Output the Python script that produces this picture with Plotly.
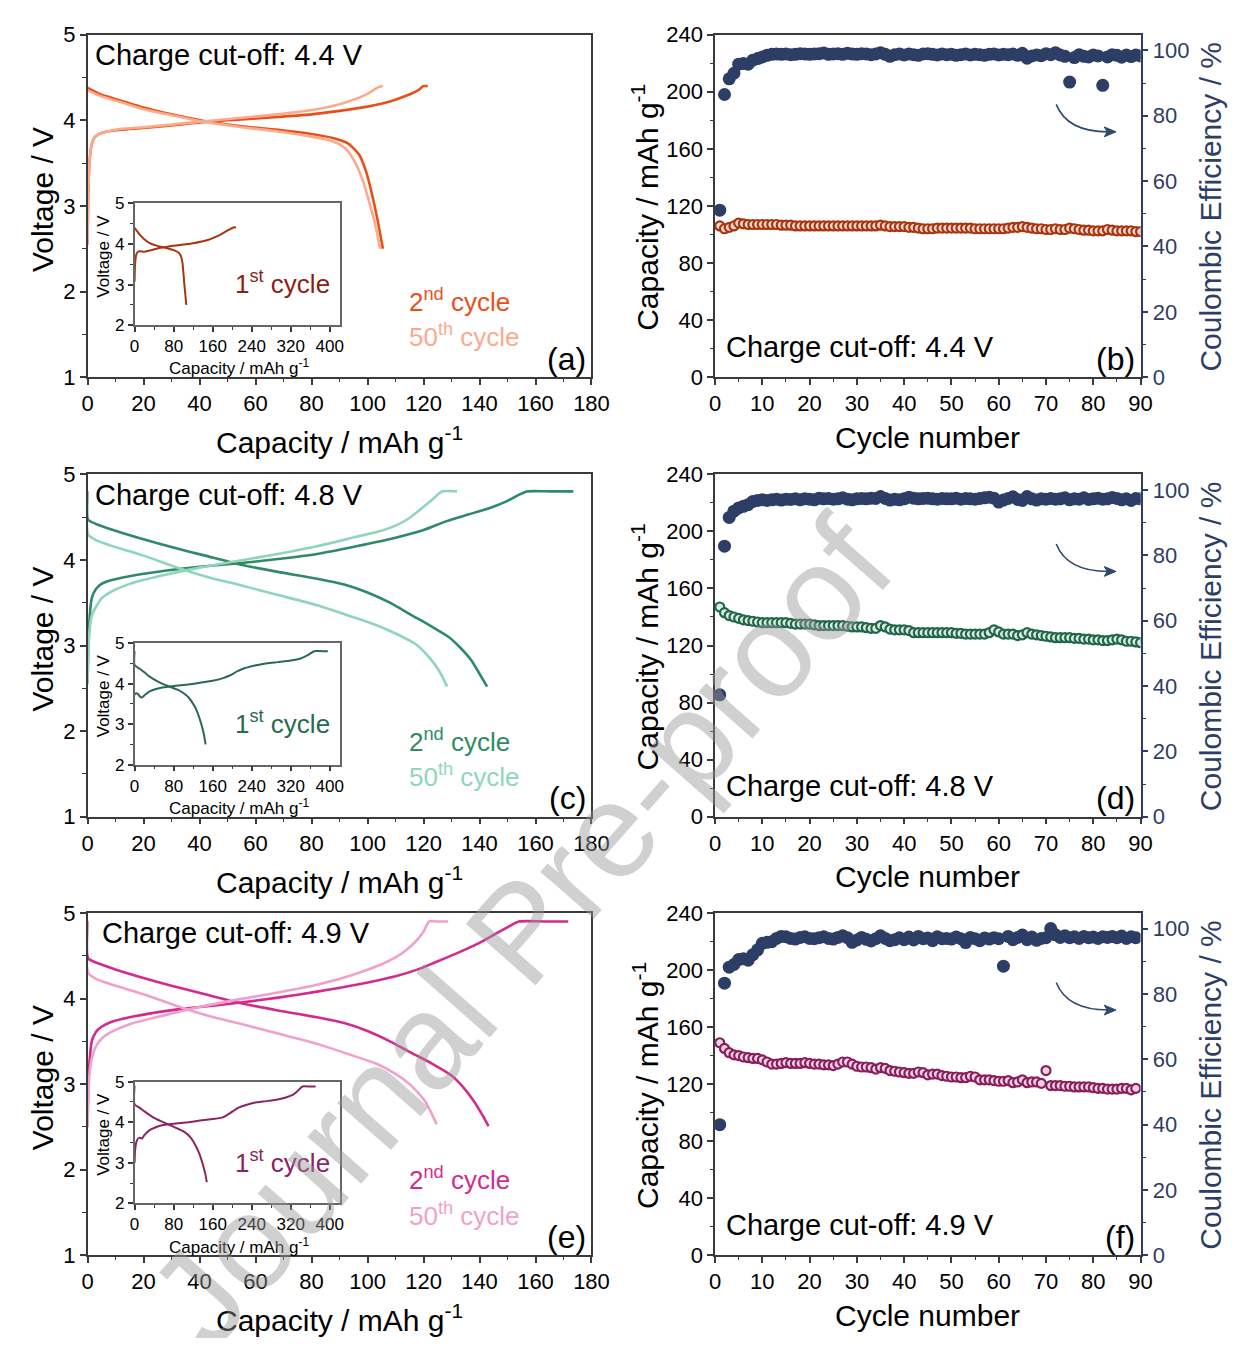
import plotly.graph_objects as go

# page is 1245x1346; the browser adds an 8px body margin, so the figure is
# sized to fit inside it and all placements are given in page pixels.
PAGE_W, PAGE_H = 1245, 1346
OFF = 8
W, H = PAGE_W - 2 * OFF, PAGE_H - 2 * OFF
FONT = "Liberation Sans, Arial, sans-serif"

# ---------------- data: voltage profiles ----------------
a2_chg_x = [0, 0.3, 0.8, 1.5, 2.5, 4, 7, 12, 20, 30, 42, 55, 68, 80, 90, 100, 108, 114, 118, 120, 121.5]
a2_chg_y = [2.55, 3.2, 3.55, 3.72, 3.80, 3.84, 3.87, 3.89, 3.91, 3.94, 3.98, 4.01, 4.04, 4.07, 4.11, 4.16, 4.22, 4.29, 4.35, 4.40, 4.40]
a50_chg_x = [0, 0.3, 0.8, 1.5, 2.5, 4, 7, 12, 20, 30, 42, 55, 68, 80, 88, 95, 100, 104, 105.5]
a50_chg_y = [2.55, 3.2, 3.55, 3.72, 3.80, 3.84, 3.87, 3.90, 3.92, 3.95, 3.99, 4.03, 4.07, 4.12, 4.17, 4.24, 4.31, 4.39, 4.40]
a2_dis_x = [0, 5, 12, 20, 30, 42, 55, 68, 80, 88, 93, 97, 99.5, 101.5, 103.5, 105.5]
a2_dis_y = [4.38, 4.30, 4.23, 4.15, 4.07, 3.99, 3.93, 3.89, 3.84, 3.79, 3.73, 3.60, 3.40, 3.15, 2.85, 2.50]
a50_dis_x = [0, 5, 12, 20, 30, 42, 55, 68, 80, 86, 90, 93, 96, 98.5, 101, 103, 104.5]
a50_dis_y = [4.35, 4.28, 4.21, 4.13, 4.06, 3.98, 3.92, 3.87, 3.81, 3.77, 3.72, 3.64, 3.48, 3.28, 3.0, 2.75, 2.50]
ia_chg_x = [0, 1, 3, 6, 10, 20, 35, 50, 70, 97, 120, 150, 165, 177, 190, 203, 208]
ia_chg_y = [3.07, 3.5, 3.72, 3.80, 3.82, 3.81, 3.85, 3.90, 3.94, 3.98, 4.02, 4.10, 4.17, 4.24, 4.33, 4.41, 4.41]
ia_dis_x = [0, 10, 20, 30, 45, 63, 80, 90, 95, 98, 100, 102, 104, 106]
ia_dis_y = [4.40, 4.24, 4.12, 4.03, 3.96, 3.91, 3.85, 3.79, 3.70, 3.55, 3.30, 3.0, 2.75, 2.50]

c2_chg_x = [0, 0.3, 0.8, 1.5, 3, 5, 8, 15, 27, 40, 54, 68, 82, 96, 110, 120, 128, 136, 144, 150, 154, 157, 165, 173.5]
c2_chg_y = [2.55, 3.0, 3.35, 3.55, 3.66, 3.72, 3.76, 3.81, 3.87, 3.92, 3.96, 4.01, 4.07, 4.16, 4.26, 4.35, 4.45, 4.53, 4.61, 4.69, 4.76, 4.80, 4.80, 4.80]
c50_chg_x = [0, 0.3, 0.8, 1.5, 3, 5, 8, 15, 27, 40, 54, 68, 82, 96, 105, 110, 115, 120, 124, 126.5, 132]
c50_chg_y = [2.55, 2.95, 3.2, 3.35, 3.45, 3.55, 3.62, 3.72, 3.82, 3.91, 3.99, 4.07, 4.16, 4.27, 4.34, 4.40, 4.49, 4.62, 4.73, 4.80, 4.80]
c2_dis_x = [0, 0.2, 3, 10, 20, 30, 42, 54, 68, 82, 92, 100, 108, 116, 123, 129, 133, 137, 140, 142.7]
c2_dis_y = [4.80, 4.47, 4.42, 4.34, 4.24, 4.15, 4.05, 3.95, 3.86, 3.78, 3.71, 3.62, 3.50, 3.35, 3.22, 3.10, 2.98, 2.83, 2.67, 2.52]
c50_dis_x = [0, 0.2, 3, 8, 13, 20, 33, 45, 54, 68, 82, 95, 103, 110, 117, 121, 124, 126.5, 128.4]
c50_dis_y = [4.80, 4.30, 4.23, 4.17, 4.12, 4.05, 3.90, 3.78, 3.71, 3.59, 3.47, 3.33, 3.24, 3.14, 3.02, 2.90, 2.78, 2.65, 2.52]
ic_chg_x = [0, 3, 7, 11, 15, 22, 30, 42, 54, 80, 110, 134, 160, 180, 195, 210, 225, 240, 260, 293, 320, 340, 355, 368, 385, 396]
ic_chg_y = [3.73, 3.76, 3.74, 3.68, 3.66, 3.73, 3.80, 3.86, 3.90, 3.94, 3.98, 4.02, 4.07, 4.13, 4.20, 4.30, 4.38, 4.43, 4.48, 4.53, 4.57, 4.62, 4.70, 4.80, 4.80, 4.80]
ic_dis_x = [0, 0, 10, 20, 30, 45, 60, 75, 90, 102, 112, 120, 126, 132, 138, 142, 145.5]
ic_dis_y = [4.8, 4.46, 4.37, 4.28, 4.18, 4.07, 3.98, 3.91, 3.84, 3.75, 3.64, 3.50, 3.37, 3.18, 2.95, 2.75, 2.50]

e2_chg_x = [0, 0.3, 0.8, 1.5, 3, 5, 8, 15, 27, 40, 54, 68, 82, 96, 110, 118, 124, 132, 140, 146, 151, 154, 163, 171.7]
e2_chg_y = [2.5, 3.0, 3.3, 3.5, 3.61, 3.67, 3.72, 3.78, 3.85, 3.90, 3.95, 4.01, 4.08, 4.16, 4.26, 4.34, 4.42, 4.53, 4.65, 4.76, 4.85, 4.90, 4.90, 4.90]
e50_chg_x = [0, 0.3, 0.8, 1.5, 3, 5, 8, 15, 27, 40, 54, 68, 82, 96, 105, 110, 114, 117, 120, 122, 125, 128.8]
e50_chg_y = [2.5, 2.9, 3.15, 3.3, 3.44, 3.53, 3.60, 3.70, 3.80, 3.90, 3.99, 4.07, 4.16, 4.29, 4.40, 4.48, 4.57, 4.66, 4.78, 4.90, 4.90, 4.90]
e2_dis_x = [0, 0.2, 3, 10, 20, 30, 42, 54, 68, 82, 92, 100, 108, 116, 123, 130, 134, 138, 141, 143.2]
e2_dis_y = [4.90, 4.47, 4.42, 4.34, 4.24, 4.15, 4.05, 3.95, 3.86, 3.78, 3.71, 3.62, 3.50, 3.36, 3.24, 3.10, 2.97, 2.80, 2.64, 2.51]
e50_dis_x = [0, 0.2, 3, 8, 13, 20, 33, 45, 54, 68, 82, 95, 103, 110, 115, 118, 120.8, 123, 124.7]
e50_dis_y = [4.90, 4.30, 4.23, 4.17, 4.12, 4.05, 3.90, 3.78, 3.71, 3.59, 3.47, 3.33, 3.24, 3.12, 3.0, 2.9, 2.79, 2.65, 2.53]
ie_chg_x = [0, 1, 3, 6, 10, 15, 20, 30, 42, 54, 80, 110, 134, 160, 181, 195, 213, 230, 245, 270, 293, 310, 325, 335, 344, 360, 371]
ie_chg_y = [3.0, 3.3, 3.48, 3.58, 3.62, 3.60, 3.68, 3.80, 3.87, 3.92, 3.96, 4.00, 4.04, 4.08, 4.12, 4.22, 4.36, 4.43, 4.48, 4.52, 4.56, 4.61, 4.68, 4.78, 4.88, 4.88, 4.88]
ie_dis_x = [0, 0, 10, 20, 38, 55, 70, 85, 102, 115, 126, 134, 140, 145, 148]
ie_dis_y = [4.9, 4.44, 4.36, 4.27, 4.12, 4.02, 3.94, 3.86, 3.76, 3.62, 3.40, 3.18, 2.95, 2.72, 2.52]

# ---------------- data: cycling ----------------
cycles_90 = list(range(1, 91))
cycles_89 = list(range(1, 90))

b_cap = [106, 104, 105, 106, 108, 107.5, 107, 107, 107, 107, 107, 107, 107, 106.5, 106.5, 106.5, 106, 106, 106, 106,
         106, 106, 106, 106, 106, 106, 106, 106, 106, 106, 106, 106, 106, 106, 106.5, 106, 105.5, 105.5, 105.5, 105.5,
         105, 105, 104.5, 104, 104, 104, 104.5, 104.5, 104.5, 104.5, 104.5, 104.5, 104.5, 104.5, 104, 104, 104, 104, 104, 104,
         104, 104.5, 105, 105, 105.5, 105, 104.5, 104, 104, 103.5, 103.5, 104, 103.5, 103.5, 104.5, 104, 103.5, 103, 103, 102.5,
         102.5, 102.5, 103.5, 103, 102.5, 102.5, 102.5, 102.5, 102, 102]
b_ce = [51.1, 86.5, 91.3, 93.0, 95.8, 96.0, 95.8, 97.0, 97.5, 98.0, 98.5, 98.8, 98.9, 98.8, 98.9, 98.7, 98.8, 99.0, 98.9, 98.8,
        98.9, 99.0, 99.2, 98.8, 98.9, 99.0, 98.8, 99.1, 98.9, 98.8, 99.0, 98.9, 98.7, 98.9, 99.3, 98.8, 98.2, 98.7, 98.9, 98.6,
        98.9, 98.7, 98.5, 98.9, 99.0, 98.8, 98.6, 98.9, 98.7, 98.8, 98.5, 98.7, 98.9, 98.6, 98.8, 98.7, 98.5, 98.8, 98.9, 98.6,
        98.8, 98.7, 98.9, 98.5, 99.1, 97.6, 98.3, 98.6, 98.4, 99.0, 98.7, 99.3, 98.6, 98.2, 90.3, 97.8, 98.7, 98.2, 98.0, 98.6,
        98.3, 89.3, 98.0, 98.7, 98.5, 97.9, 98.6, 98.1, 98.6, 98.3]

d_cap = [147, 143, 141, 140, 139, 138, 137.5, 137, 136.5, 136, 136, 136, 136, 136, 136, 135.5, 135, 135, 135, 135,
         134.5, 134, 134, 134, 134, 134, 134, 133.5, 133, 133, 133, 132.5, 132, 132, 134, 133, 131.5, 131, 131, 131,
         130.5, 129, 129, 129, 129, 129, 129, 129, 129, 129, 128.5, 128.5, 128, 128, 128, 128, 128, 129, 131, 129.5,
         128, 128, 128, 127, 127.5, 129, 128, 127.5, 127, 126.5, 126, 125.5, 125.5, 125.5, 125.5, 125, 125, 124.5, 124.5, 124,
         124, 123.5, 123.5, 124, 124.5, 124, 123, 123, 122.5, 122]
d_ce = [37.3, 82.8, 91.6, 93.5, 94.5, 95.0, 95.5, 96.5, 96.8, 97.0, 96.8, 97.0, 97.2, 96.9, 97.2, 97.1, 97.3, 97.0, 97.3, 97.2,
        97.0, 97.5, 97.3, 97.4, 97.2, 97.3, 97.6, 97.2, 97.0, 97.3, 97.4, 97.3, 97.5, 97.4, 98.0, 97.4, 96.9, 97.2, 97.0, 97.3,
        97.8, 97.5, 97.3, 97.4, 97.5, 97.3, 97.2, 97.4, 97.3, 97.3, 97.5, 97.2, 97.4, 97.3, 97.2, 97.4, 97.6, 97.8, 97.5, 96.3,
        96.9, 97.4, 97.9, 97.1, 96.8, 98.0, 97.3, 96.9, 97.3, 97.2, 97.4, 97.2, 97.3, 97.6, 97.0, 97.3, 97.2, 97.6, 97.1, 97.3,
        97.5, 97.2, 97.3, 97.7, 97.4, 97.0, 97.3, 96.8, 97.4, 97.3]

f_cap = [149, 145, 142, 140.5, 140, 139, 138.5, 138, 138, 137, 135.5, 134, 134, 134.5, 135, 134.5, 134.5, 134.5, 135, 134.5,
         134, 134, 133.5, 133.5, 133, 134, 135.5, 135.5, 134, 132.5, 132, 132, 131.5, 130.5, 131.5, 131, 129.5, 129, 128.5, 128,
         127.5, 127.5, 128.5, 128, 126.5, 127, 127, 126, 125.5, 125, 125, 124.5, 124.5, 125.5, 125, 123, 123, 123, 122.5, 122,
         122, 122.5, 121, 121.5, 123, 121, 121.5, 121.5, 120.5, 129.5, 119, 119, 119, 118.5, 118.5, 118, 118, 118, 118, 117.5,
         117, 117, 116.5, 116.5, 116.5, 117, 117, 116, 117]
f_ce = [40.0, 83.3, 88.2, 89.0, 90.5, 90.8, 90.3, 92.0, 93.5, 95.5, 95.8, 96.0, 97.0, 97.6, 97.5, 97.0, 96.8, 97.3, 97.5, 97.0,
        96.9, 97.2, 97.5, 97.0, 96.8, 97.3, 97.8, 97.2, 95.8, 96.5, 97.3, 96.7, 96.2, 96.9, 97.8, 97.0, 96.3, 96.6, 97.2, 96.6,
        97.4, 96.5, 97.6, 96.9, 97.1, 96.3, 97.5, 96.9, 97.0, 96.8, 97.4, 96.9, 95.7, 97.3, 96.9, 96.3, 97.1, 96.8, 97.2, 96.9,
        88.5, 97.6, 96.6, 97.3, 98.0, 96.6, 97.4, 96.4, 97.0, 97.2, 100.0, 98.1, 97.3, 97.8, 97.2, 97.5, 97.0, 97.6, 97.2, 97.4,
        97.0, 97.5, 97.3, 97.6, 97.2, 97.7, 97.0, 97.5, 97.2]

cutoff_labels = ["Charge cut-off: 4.4 V", "Charge cut-off: 4.8 V", "Charge cut-off: 4.9 V"]
volt_ticks = [1, 2, 3, 4, 5]
cap_ticks = [0, 20, 40, 60, 80, 100, 120, 140, 160, 180]
inset_cap_ticks = [0, 80, 160, 240, 320, 400]
cyc_ticks = [0, 10, 20, 30, 40, 50, 60, 70, 80, 90]
capL_ticks = [0, 40, 80, 120, 160, 200, 240]
ce_ticks = [0, 20, 40, 60, 80, 100]

# ---------------- styling ----------------
NAVY = "#2D3E66"
AX = "#3a3a3a"
ARROW = "#2E4A6B"
rows = [
    dict(T=23, c2="#E8501A", c50="#FBAA8C", c1="#A8350F", t1="#8E1E12",
         mk_edge="#A8350F", mk_fill="#F6D9CF", lab=("(a)", "(b)"), ctx=89,
         V=[(a2_chg_x, a2_chg_y, 2), (a2_dis_x, a2_dis_y, 2), (a50_chg_x, a50_chg_y, 50), (a50_dis_x, a50_dis_y, 50)],
         I=[(ia_chg_x, ia_chg_y), (ia_dis_x, ia_dis_y)], cyc=cycles_90, cap=b_cap, ce=b_ce),
    dict(T=471, c2="#2F8A66", c50="#8FD6B9", c1="#2A6A4E", t1="#2A6A4E",
         mk_edge="#22664A", mk_fill="#D9ECE3", lab=("(c)", "(d)"), ctx=89,
         V=[(c2_chg_x, c2_chg_y, 2), (c2_dis_x, c2_dis_y, 2), (c50_chg_x, c50_chg_y, 50), (c50_dis_x, c50_dis_y, 50)],
         I=[(ic_chg_x, ic_chg_y), (ic_dis_x, ic_dis_y)], cyc=cycles_90, cap=d_cap, ce=d_ce),
    dict(T=918, c2="#D42A8E", c50="#F0A0CC", c1="#8A2462", t1="#8A2462",
         mk_edge="#8A1E5C", mk_fill="#F0D3E4", lab=("(e)", "(f)"), ctx=96,
         V=[(e2_chg_x, e2_chg_y, 2), (e2_dis_x, e2_dis_y, 2), (e50_chg_x, e50_chg_y, 50), (e50_dis_x, e50_dis_y, 50)],
         I=[(ie_chg_x, ie_chg_y), (ie_dis_x, ie_dis_y)], cyc=cycles_89, cap=f_cap, ce=f_ce),
]

def fx(p):
    return (p - OFF) / W

def fy(p):
    return 1 - (p - OFF) / H

fig = go.Figure()
layout = {}
annotations = []
shapes = []

def axis(domain, rng, tickvals, minor_dtick, tick_size=22, color=AX, tickcolor="black",
         mirror=True, side=None, anchor=None, overlaying=None, ticklen=6):
    d = dict(domain=domain, range=rng, tickmode="array", tickvals=tickvals,
             ticks="outside", ticklen=ticklen, tickwidth=1.5, tickcolor=color,
             showline=True, linecolor=color, linewidth=1.5, mirror=mirror,
             showgrid=False, zeroline=False,
             tickfont=dict(family=FONT, size=tick_size, color=tickcolor),
             minor=dict(dtick=minor_dtick, ticks="outside", ticklen=ticklen * 0.55,
                        tickwidth=1.2, tickcolor=color, showgrid=False))
    if side:
        d["side"] = side
    if anchor:
        d["anchor"] = anchor
    if overlaying:
        d["overlaying"] = overlaying
    return d

def ann(text, x, y, size, color="black", xanchor="left", yanchor="middle", angle=0):
    annotations.append(dict(text=text, x=fx(x), y=fy(y), xref="paper", yref="paper",
                            showarrow=False, xanchor=xanchor, yanchor=yanchor, textangle=angle,
                            font=dict(family=FONT, size=size, color=color)))

xi = 0
yi = 0
for idx, r in enumerate(rows):
    T = r["T"]
    # ---- left voltage panel ----
    xi += 1; yi += 1
    xa, ya = xi, yi
    layout[f"xaxis{xa}"] = axis([fx(83), fx(597)], [0, 180], cap_ticks, 10, anchor=f"y{ya}")
    layout[f"yaxis{ya}"] = axis([fy(T + 349), fy(T)], [1, 5], volt_ticks, 0.5, anchor=f"x{xa}")
    for (xs, ys, cyc) in r["V"]:
        fig.add_trace(go.Scatter(x=xs, y=ys, mode="lines", xaxis=f"x{xa}", yaxis=f"y{ya}",
                                 line=dict(color=r["c2"] if cyc == 2 else r["c50"], width=2.6,
                                           shape="spline", smoothing=0.6), showlegend=False))
    # ---- inset ----
    xi += 1; yi += 1
    xb, yb = xi, yi
    layout[f"xaxis{xb}"] = axis([fx(131), fx(340)], [0, 420], inset_cap_ticks, 40, tick_size=17,
                                anchor=f"y{yb}", ticklen=5)
    layout[f"yaxis{yb}"] = axis([fy(T + 296), fy(T + 172)], [2, 5], [2, 3, 4, 5], 0.5, tick_size=17,
                                anchor=f"x{xb}", ticklen=5)
    layout[f"xaxis{xb}"]["linecolor"] = "#666"
    layout[f"yaxis{yb}"]["linecolor"] = "#666"
    shapes.append(dict(type="rect", xref="paper", yref="paper", x0=fx(131), x1=fx(340),
                       y0=fy(T + 296), y1=fy(T + 172), fillcolor="white", line=dict(width=0), layer="below"))
    for (xs, ys) in r["I"]:
        fig.add_trace(go.Scatter(x=xs, y=ys, mode="lines", xaxis=f"x{xb}", yaxis=f"y{yb}",
                                 line=dict(color=r["c1"], width=2, shape="spline", smoothing=0.6),
                                 showlegend=False))
    # ---- right cycling panel ----
    xi += 1; yi += 1
    xc, yc = xi, yi
    yi += 1
    yd = yi
    layout[f"xaxis{xc}"] = axis([fx(723), fx(1157)], [0, 90], cyc_ticks, 5, anchor=f"y{yc}")
    layout[f"yaxis{yc}"] = axis([fy(T + 349), fy(T)], [0, 240], capL_ticks, 20, anchor=f"x{xc}", mirror=False)
    layout[f"yaxis{yd}"] = axis([fy(T + 349), fy(T)], [0, 104.8], ce_ticks, 10, anchor=f"x{xc}",
                                side="right", overlaying=f"y{yc}", color=NAVY, tickcolor=NAVY, mirror=False)
    fig.add_trace(go.Scatter(x=r["cyc"], y=r["cap"], mode="markers", xaxis=f"x{xc}", yaxis=f"y{yc}",
                             marker=dict(size=9, color=r["mk_fill"], line=dict(color=r["mk_edge"], width=2.2)),
                             showlegend=False))
    fig.add_trace(go.Scatter(x=r["cyc"], y=r["ce"], mode="markers", xaxis=f"x{xc}", yaxis=f"y{yd}",
                             marker=dict(size=13, color=NAVY), showlegend=False))

    # ---- texts ----
    ann(cutoff_labels[idx], r["ctx"], T + 21, 29)
    ann("2<sup>nd</sup> cycle", 409, T + 271, 26, color=r["c2"])
    ann("50<sup>th</sup> cycle", 409, T + 307, 26, color=r["c50"])
    ann("1<sup>st</sup> cycle", 231, T + 253, 26, color=r["t1"])
    ann(r["lab"][0], 593, T + 330, 32, xanchor="right")
    ann("Capacity / mAh g<sup>-1</sup>", 340, T + 413, 30, xanchor="center")
    ann("Voltage / V", 37, T + 168, 30, xanchor="center", angle=-90)
    ann("Voltage / V", 99, T + 226, 17, xanchor="center", angle=-90)
    ann("Capacity / mAh g<sup>-1</sup>", 237, T + 339, 17, xanchor="center")
    ann(cutoff_labels[idx], 732, T + 318, 29)
    ann(r["lab"][1], 1153, T + 330, 32, xanchor="right")
    ann("Cycle number", 940, T + 410, 30, xanchor="center")
    ann("Capacity / mAh g<sup>-1</sup>", 652, T + 176, 30, xanchor="center", angle=-90)
    ann("Coulombic Efficiency / %", 1228, T + 175, 30, color=NAVY, xanchor="center", angle=-90)
    # curved arrow toward the right axis
    shapes.append(dict(type="path", xref="paper", yref="paper",
                       path=f"M {fx(1071)},{fy(T + 71)} Q {fx(1082)},{fy(T + 99)} {fx(1124)},{fy(T + 99)}",
                       line=dict(color=ARROW, width=1.6)))
    shapes.append(dict(type="path", xref="paper", yref="paper",
                       path=(f"M {fx(1132)},{fy(T + 99)} L {fx(1120)},{fy(T + 94)} "
                             f"L {fx(1123)},{fy(T + 99)} L {fx(1120)},{fy(T + 104)} Z"),
                       fillcolor=ARROW, line=dict(color=ARROW, width=1)))

# watermark
annotations.append(dict(text="Journal Pre-proof", x=fx(525), y=fy(937), xref="paper", yref="paper",
                        showarrow=False, textangle=-48.7, xanchor="center", yanchor="middle",
                        font=dict(family=FONT, size=135, color="rgba(150,150,150,0.45)")))

fig.update_layout(**layout)
fig.update_layout(width=W, height=H, margin=dict(l=0, r=0, t=0, b=0),
                  plot_bgcolor="white", paper_bgcolor="white",
                  annotations=annotations, shapes=shapes, showlegend=False,
                  font=dict(family=FONT))
fig.write_html("out.html")
